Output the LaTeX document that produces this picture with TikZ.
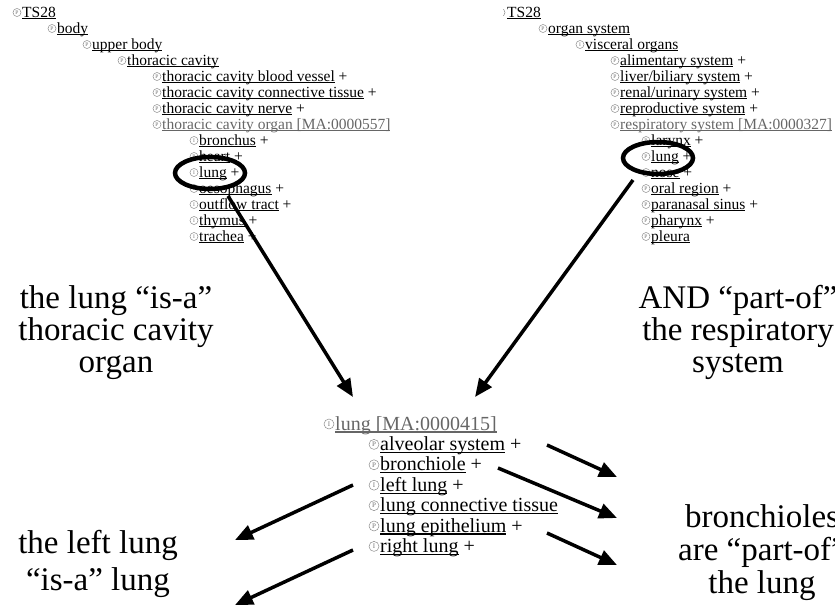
\documentclass[tikz,border=0pt]{standalone}
\usepackage{fontspec}
\setmainfont{Liberation Serif}
\usetikzlibrary{arrows.meta,shapes.geometric}

\newcommand{\lnk}[1]{\setbox0\hbox{#1}\rlap{\rule[-0.13em]{\wd0}{0.06em}}\box0}

\begin{document}
\begin{tikzpicture}[x=1pt,y=-1pt,
	tree/.style={anchor=base west,inner sep=0pt,font=\fontsize{15.5}{16}\selectfont},
	bigtree/.style={anchor=base west,inner sep=0pt,font=\fontsize{20}{20}\selectfont},
	ico/.style={circle,draw=black!45,text=black!55,line width=0.5pt,inner sep=0pt,minimum size=8pt,font=\fontsize{5.5}{5.5}\selectfont},
	bigico/.style={ico,minimum size=10pt,font=\fontsize{7}{7}\selectfont},
	cur/.style={text=black!60},
	note/.style={anchor=north,align=center,inner sep=0pt,font=\fontsize{33}{32}\selectfont},
	ring/.style={draw,ellipse,line width=4.5pt,minimum width=70pt,minimum height=32pt,inner sep=0pt},
	link/.style={line width=3.5pt,-{Triangle[length=18pt,width=15pt]}}]
	\useasboundingbox (0,0) rectangle (835,608);
	\clip (0,0) rectangle (835,608);
	% left tree
	\foreach \ic/\nm/\pl/\x [count=\k from 0] in {P/TS28//13, P/body//48, P/upper body//83, P/thoracic cavity//118,
		P/thoracic cavity blood vessel/~+/153, P/thoracic cavity connective tissue/~+/153, P/thoracic cavity nerve/~+/153}{
		\node[ico] (lti\k) at ({\x+4},{12.5+16*\k}) {\ic};
		\node[tree] (lt\k) at ({\x+9},{17+16*\k}) {\lnk{\nm}\pl};
	}
	\node[ico] (lti7) at (157,124.5) {P};
	\node[tree,cur] (lt7) at (162,129) {\lnk{thoracic cavity organ [MA:0000557]}};
	\foreach \ic/\nm [count=\k from 8] in {I/bronchus, P/heart, I/lung, I/oesophagus, I/outflow tract, I/thymus, I/trachea}{
		\node[ico] (lti\k) at (194,{12.5+16*\k}) {\ic};
		\node[tree] (lt\k) at (199,{17+16*\k}) {\lnk{\nm}~+};
	}
	% right tree
	\begin{scope}
		\clip (503,0) rectangle (835,30);
		\node[ico] (rti0) at (501,12.5) {P};
	\end{scope}
	\node[tree] (rt0) at (507,17) {\lnk{TS28}};
	\node[ico] (rti1) at (543,28.5) {P};
	\node[tree] (rt1) at (548,33) {\lnk{organ system}};
	\node[ico] (rti2) at (580,44.5) {I};
	\node[tree] (rt2) at (585,49) {\lnk{visceral organs}};
	\foreach \nm [count=\k from 3] in {alimentary system, liver/biliary system, renal/urinary system, reproductive system}{
		\node[ico] (rti\k) at (615,{12.5+16*\k}) {P};
		\node[tree] (rt\k) at (620,{17+16*\k}) {\lnk{\nm}~+};
	}
	\node[ico] (rti7) at (615,124.5) {P};
	\node[tree,cur] (rt7) at (620,129) {\lnk{respiratory system [MA:0000327]}};
	\foreach \nm/\pl [count=\k from 8] in {larynx/~+, lung/~+, nose/~+, oral region/~+, paranasal sinus/~+, pharynx/~+, pleura/}{
		\node[ico] (rti\k) at (646,{12.5+16*\k}) {P};
		\node[tree] (rt\k) at (651,{17+16*\k}) {\lnk{\nm}\pl};
	}
	% lung entry
	\node[bigico] (bli0) at (329,424) {I};
	\node[bigtree,cur] (bl0) at (335,430) {\lnk{lung [MA:0000415]}};
	\foreach \ic/\nm/\pl [count=\k from 1] in {P/alveolar system/~+, P/bronchiole/~+, I/left lung/~+,
		P/lung connective tissue/, P/lung epithelium/~+, I/right lung/~+}{
		\node[bigico] (bli\k) at (374,{424+20.4*\k}) {\ic};
		\node[bigtree] (bl\k) at (380,{430+20.4*\k}) {\lnk{\nm}\pl};
	}
	% circles
	\node[ring] (isaring) at (210,173) {};
	\node[ring] (partring) at (658,158) {};
	% notes
	\node[note] (isanote) at (116,285.5) {the lung “is-a”\\thoracic cavity\\organ};
	\node[note] (partnote) at (738,285.5) {AND “part-of”\\the respiratory\\system};
	\node[note,font=\fontsize{33}{33}\selectfont] (bronnote) at (762,504.5) {bronchioles\\are “part-of”\\the lung};
	\node[note,font=\fontsize{33}{37}\selectfont] (leftnote) at (98,530.5) {the left lung\\“is-a” lung};
	% arrows
	\coordinate (isatail) at (228,196);
	\coordinate (isahead) at (353,397);
	\coordinate (parttail) at (633,180);
	\coordinate (parthead) at (475,397);
	\draw[link] (isatail) -- (isahead);
	\draw[link] (parttail) -- (parthead);
	\coordinate (ra1) at (547,445);
	\coordinate (rb1) at (617,477);
	\coordinate (ra2) at (498,468);
	\coordinate (rb2) at (617,518);
	\coordinate (ra3) at (547,533);
	\coordinate (rb3) at (617,565);
	\coordinate (la1) at (353,485);
	\coordinate (lb1) at (235,540);
	\coordinate (la2) at (353,550);
	\coordinate (lb2) at (235,605);
	\foreach \i in {1,2,3}{
		\draw[link] (ra\i) -- (rb\i);
	}
	\foreach \i in {1,2}{
		\draw[link] (la\i) -- (lb\i);
	}
%	\draw[color=gray,step=20] (0,0) grid (835,608);
\end{tikzpicture}
\end{document}
